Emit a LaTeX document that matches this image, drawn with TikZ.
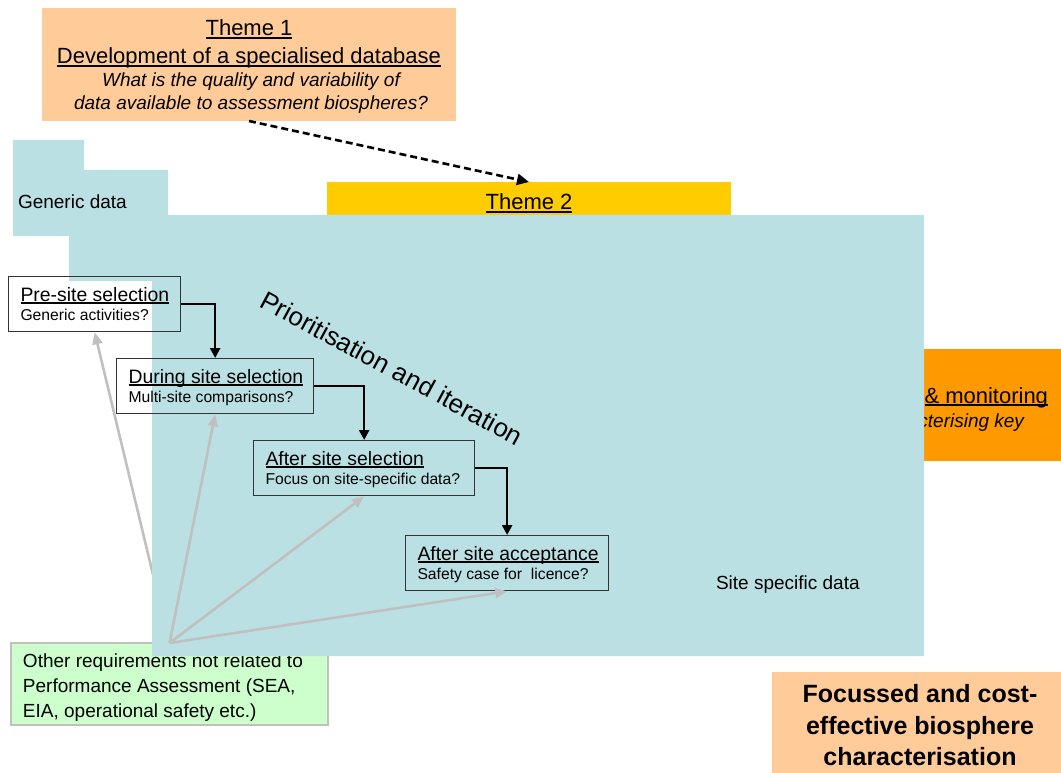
\documentclass[tikz,border=0pt]{standalone}
\usepackage{fontspec}
\setmainfont{Liberation Sans}
\usetikzlibrary{arrows.meta}
\definecolor{peach}{HTML}{FFCC99}
\definecolor{yel}{HTML}{FFCC00}
\definecolor{orng}{HTML}{FF9900}
\definecolor{lblue}{HTML}{BBE0E3}
\definecolor{lgreen}{HTML}{CCFFCC}
\definecolor{gry}{HTML}{C0C0C0}
\definecolor{bdr}{HTML}{333333}
\newcommand\myul[1]{\setbox0\hbox{#1}\leavevmode\rlap{\rule[-0.12em]{\wd0}{0.075em}}\box0}
\pgfdeclarelayer{behind}
\pgfdeclarelayer{bluelayer}
\pgfsetlayers{behind,bluelayer,main}
\tikzset{
  fillbox/.style={draw=none, inner sep=0pt, outer sep=0pt, anchor=north west},
  txt/.style={inner sep=0pt, outer sep=0pt},
  ptitle/.style={txt, anchor=base west, font=\fontsize{19.4}{22}\selectfont},
  psub/.style={txt, anchor=base west, font=\fontsize{15.7}{18}\selectfont},
  procbox/.style={draw=bdr, line width=1.3pt, anchor=north west, inner sep=0pt, minimum height=55pt},
  blackarr/.style={draw=black, line width=2.6pt, -{Triangle[length=10pt,width=10pt]}},
  grayarr/.style={draw=gry, line width=2.6pt, -{Triangle[length=12pt,width=10pt]}},
  dasharr/.style={draw=black, line width=2.6pt, dash pattern=on 7pt off 4pt, -{Triangle[length=12pt,width=11pt]}}
}
\begin{document}
\begin{tikzpicture}[x=1pt,y=-1pt]
\useasboundingbox (0,0) rectangle (1061,773);

\begin{pgfonlayer}{behind}
% Theme 1
\node[fillbox, fill=peach, minimum width=414pt, minimum height=113pt] (t1) at (42,8) {};
\node[txt, anchor=base, font=\fontsize{22}{26}\selectfont] (t1a) at (249,36) {\myul{Theme 1}};
\node[txt, anchor=base, font=\fontsize{22}{26}\selectfont] (t1b) at (249,64) {\myul{Development of a specialised database}};
\node[txt, anchor=base, font=\fontsize{19}{23}\selectfont\itshape] (t1c) at (251,87) {What is the quality and variability of};
\node[txt, anchor=base, font=\fontsize{19}{23}\selectfont\itshape] (t1d) at (251,110) {data available to assessment biospheres?};

% Theme 3 (orange, mostly hidden)
\node[fillbox, fill=orng, minimum width=181pt, minimum height=112pt] (t3) at (880,349) {};
\node[txt, anchor=base east, font=\fontsize{22}{26}\selectfont] (t3a) at (1048,403) {\myul{\& monitoring}};
\node[txt, anchor=base east, font=\fontsize{19}{23}\selectfont\itshape] (t3b) at (1024,427) {cterising key};

% Theme 2
\node[fillbox, fill=yel, minimum width=404pt, minimum height=45pt] (t2) at (327,182) {};
\node[txt, anchor=base, font=\fontsize{22}{26}\selectfont] (t2a) at (529,210) {\myul{Theme 2}};

% Green box
\node[fillbox, fill=lgreen, draw=gry, line width=1.5pt, minimum width=317pt, minimum height=82pt] (other) at (11,643) {};
\node[txt, anchor=base west, font=\fontsize{19}{23}\selectfont] (oa) at (23,667) {Other requirements not related to};
\node[txt, anchor=base west, font=\fontsize{19}{23}\selectfont] (ob) at (23,692) {Performance Assessment (SEA,};
\node[txt, anchor=base west, font=\fontsize{19}{23}\selectfont] (oc) at (23,717) {EIA, operational safety etc.)};
\end{pgfonlayer}

% Process boxes (no fill)
\node[procbox, minimum width=172pt] (pre) at (8,276) {};
\node[ptitle] (preT) at (20.5,301.5) {\myul{Pre-site selection}};
\node[psub] (preS) at (20.5,320) {Generic activities?};

\node[procbox, minimum width=197pt] (during) at (116,358) {};
\node[ptitle] (durT) at (128.5,383.5) {\myul{During site selection}};
\node[psub] (durS) at (128.5,402) {Multi-site comparisons?};

\node[procbox, minimum width=221pt] (asel) at (253,440) {};
\node[ptitle] (aselT) at (265.5,465.5) {\myul{After site selection}};
\node[psub] (aselS) at (265.5,484) {Focus on site-specific data?};

\node[procbox, minimum width=203pt] (aacc) at (405,535) {};
\node[ptitle] (aaccT) at (417.5,560.5) {\myul{After site acceptance}};
\node[psub] (aaccS) at (417.5,579) {Safety case for~ licence?};

\coordinate (src) at (other.north);

\begin{pgfonlayer}{behind}
% gray arrow hidden behind blue area
\draw[grayarr] (src) -- (pre.south);
\end{pgfonlayer}

\begin{pgfonlayer}{bluelayer}
% blue staircase
\fill[lblue] (13,140) rectangle (84,236) (13,170) rectangle (168,236)
             (69,215) rectangle (924,281) (152,281) rectangle (924,656);
\node[txt, anchor=base west, font=\fontsize{19}{23}\selectfont] (gen) at (18,208) {Generic data};
\node[txt, anchor=base west, font=\fontsize{19}{23}\selectfont] (spec) at (716,589) {Site specific data};
\node[txt, rotate=-28.5, font=\fontsize{26}{30}\selectfont] (prio) at (392,368) {Prioritisation and iteration};
\end{pgfonlayer}

% connectors
\draw[blackarr] (pre.east) -| (during.north);
\draw[blackarr] (during.east) -| (asel.north);
\draw[blackarr] (asel.east) -| (aacc.north);
\draw[grayarr] (src) -- (during.south);
\draw[grayarr] (src) -- (asel.south);
\draw[grayarr] (src) -- (aacc.south);
\draw[dasharr] (t1.south) -- (t2.north);

% Result box
\node[fillbox, fill=peach, minimum width=289pt, minimum height=101pt] (res) at (772,672) {};
\node[txt, anchor=base, font=\fontsize{25}{30}\selectfont\bfseries] (ra) at (920,702) {Focussed and cost-};
\node[txt, anchor=base, font=\fontsize{25}{30}\selectfont\bfseries] (rb) at (920,734) {effective biosphere};
\node[txt, anchor=base, font=\fontsize{25}{30}\selectfont\bfseries] (rc) at (920,765) {characterisation};
\end{tikzpicture}
\end{document}
